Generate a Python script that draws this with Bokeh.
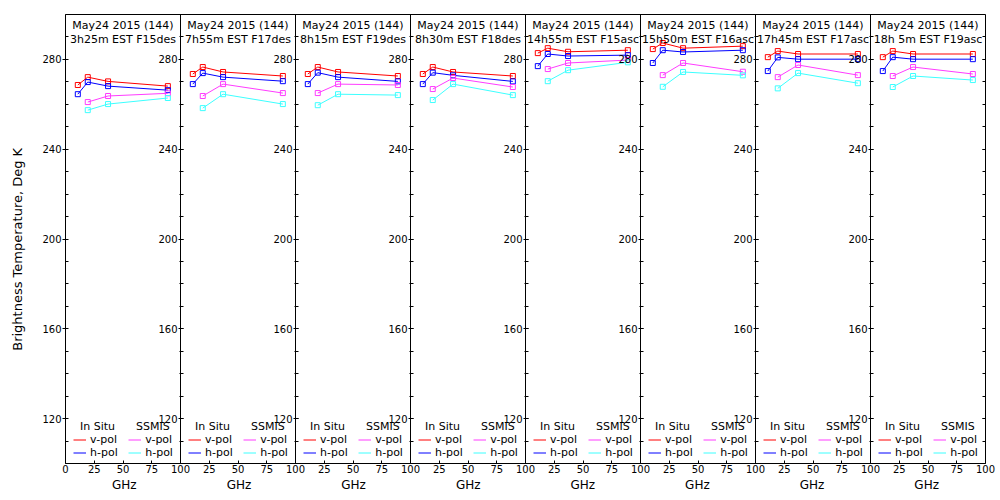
from bokeh.plotting import figure
from bokeh.models import Range1d, LinearAxis, FixedTicker, Label, Legend, LegendItem
from bokeh.embed import file_html
from bokeh.resources import INLINE

# ---------------- data ----------------
insitu_ghz = [10.7, 19.35, 37.0, 89.0]
ssmis_ghz = [19.35, 37.0, 89.0]

date_line = "May24 2015 (144)"
time_lines = ["3h25m EST F15des", "7h55m EST F17des", "8h15m EST F19des",
              "8h30m EST F18des", "14h55m EST F15asc", "15h50m EST F16asc",
              "17h45m EST F17asc", "18h 5m EST F19asc"]

insitu_vpol = [
    [268.6, 272.1, 270.2, 268.1],
    [273.5, 276.6, 274.4, 272.6],
    [273.5, 276.6, 274.4, 272.6],
    [273.5, 276.6, 274.4, 272.6],
    [282.8, 285.0, 283.4, 284.1],
    [284.6, 287.3, 285.0, 285.9],
    [281.0, 283.7, 282.4, 282.4],
    [281.0, 283.7, 282.4, 282.4],
]
insitu_hpol = [
    [264.5, 269.9, 268.1, 266.3],
    [269.0, 273.9, 272.1, 270.3],
    [269.0, 274.1, 272.1, 270.2],
    [269.0, 274.1, 272.9, 270.2],
    [277.0, 282.4, 281.5, 281.9],
    [278.4, 284.1, 283.3, 284.1],
    [274.8, 280.9, 280.1, 280.1],
    [274.8, 281.0, 280.1, 280.1],
]
ssmis_vpol = [
    [261.0, 263.7, 264.9],
    [263.7, 269.0, 265.0],
    [265.0, 269.0, 268.6],
    [266.8, 271.7, 267.7],
    [275.7, 278.4, 279.7],
    [273.0, 278.4, 274.5],
    [272.1, 277.5, 273.0],
    [272.6, 276.6, 273.5],
]
ssmis_hpol = [
    [257.4, 260.1, 262.8],
    [258.3, 264.5, 260.1],
    [259.6, 264.5, 264.1],
    [261.9, 269.0, 264.1],
    [270.3, 275.2, 278.7],
    [267.8, 274.4, 272.9],
    [267.1, 273.9, 269.4],
    [267.7, 272.6, 270.8],
]

y_major = [120, 160, 200, 240, 280]
y_minor = list(range(100, 301, 10))
x_panel_ticks = [0, 25, 50, 75, 100]
x_label = "GHz"

# ---------------- style ----------------
FONT = "DejaVu Sans"
RED, BLUE, MAG, CYAN = "#ff0000", "#0000ff", "#ff3cff", "#3cffff"
NB = "\u00a0"
EM, EN = "\u2003", "\u2002"
N = len(time_lines)

p = figure(width=998, height=498,
           min_border_left=65, min_border_right=13, min_border_top=14, min_border_bottom=35,
           x_range=Range1d(0, 100 * N), y_range=Range1d(100, 300),
           toolbar_location=None, output_backend="svg",
           background_fill_color="white", border_fill_color="white")
p.outline_line_color = "black"
p.outline_line_width = 1
p.grid.visible = False
p.extra_x_ranges = {f"r{i}": Range1d(-100 * i, 100 * N - 100 * i) for i in range(N)}


def style_y(ax):
    ax.ticker = FixedTicker(ticks=y_major, minor_ticks=y_minor)
    ax.major_label_text_font = FONT
    ax.major_label_text_font_size = "10px"
    ax.major_label_text_color = "black"
    ax.major_label_standoff = 1
    ax.major_tick_line_color = "black"
    ax.minor_tick_line_color = "black"


# first (regular) left axis
ya = p.yaxis[0]
style_y(ya)
ya.axis_line_color = None
ya.major_tick_in = 2
ya.major_tick_out = 3
ya.minor_tick_in = 3
ya.minor_tick_out = 0
ya.axis_label = "Brightness Temperature, Deg K" + NB * 5
ya.axis_label_text_font = FONT
ya.axis_label_text_font_size = "13px"
ya.axis_label_text_font_style = "normal"
ya.axis_label_text_color = "black"
ya.axis_label_standoff = 14

# shared bottom axis: each panel shows 0..100 GHz
glob_ticks, overrides = [], {}
for i in range(N):
    for t in x_panel_ticks:
        g = 100 * i + t
        if g in overrides:
            continue
        glob_ticks.append(g)
        overrides[g] = str(t) if (t > 0 or i == 0) else "100"
xa = p.xaxis[0]
xa.ticker = FixedTicker(ticks=glob_ticks, minor_ticks=[])
xa.major_label_overrides = overrides
xa.axis_line_color = None
xa.major_tick_in = 3
xa.major_tick_out = 0
xa.major_tick_line_color = "black"
xa.major_label_text_font = FONT
xa.major_label_text_font_size = "10px"
xa.major_label_text_color = "black"
xa.major_label_standoff = 1
# one "GHz" under every panel (spaced one panel width apart)
xa.axis_label = (EM * 7 + EN).join([x_label] * N)
xa.axis_label_text_font = FONT
xa.axis_label_text_font_size = "12px"
xa.axis_label_text_font_style = "normal"
xa.axis_label_text_color = "black"
xa.axis_label_standoff = 2

for i in range(N):
    rn = f"r{i}"
    # data
    lv = p.line(insitu_ghz, insitu_vpol[i], x_range_name=rn, line_color=RED, line_width=1)
    p.scatter(insitu_ghz, insitu_vpol[i], x_range_name=rn, marker="square", size=5,
              line_color=RED, fill_color=None)
    lh = p.line(insitu_ghz, insitu_hpol[i], x_range_name=rn, line_color=BLUE, line_width=1)
    p.scatter(insitu_ghz, insitu_hpol[i], x_range_name=rn, marker="square", size=5,
              line_color=BLUE, fill_color=None)
    sv = p.line(ssmis_ghz, ssmis_vpol[i], x_range_name=rn, line_color=MAG, line_width=1)
    p.scatter(ssmis_ghz, ssmis_vpol[i], x_range_name=rn, marker="square", size=5,
              line_color=MAG, fill_color=None)
    sh = p.line(ssmis_ghz, ssmis_hpol[i], x_range_name=rn, line_color=CYAN, line_width=1)
    p.scatter(ssmis_ghz, ssmis_hpol[i], x_range_name=rn, marker="square", size=5,
              line_color=CYAN, fill_color=None)

    # panel boundary axis (left side of panel i)
    if i > 0:
        ax = LinearAxis(x_range_name=rn, fixed_location=0)
        style_y(ax)
        ax.axis_line_color = "black"
        ax.major_tick_in = 3
        ax.major_tick_out = 2
        ax.minor_tick_in = 3
        ax.minor_tick_out = 1
        p.add_layout(ax, "left")

    # two-line panel title
    p.add_layout(Label(x=50, y=295.2, x_range_name=rn, text=date_line,
                       text_align="center", text_baseline="alphabetic",
                       text_font=FONT, text_font_size="11px", text_color="black"))
    p.add_layout(Label(x=50, y=288.7, x_range_name=rn, text=time_lines[i],
                       text_align="center", text_baseline="alphabetic",
                       text_font=FONT, text_font_size="11px", text_color="black"))

    # legend
    leg = Legend(items=[LegendItem(label="v-pol" + NB * 3, renderers=[lv]),
                        LegendItem(label="h-pol" + NB * 3, renderers=[lh]),
                        LegendItem(label="v-pol", renderers=[sv]),
                        LegendItem(label="h-pol", renderers=[sh])],
                 ncols=2, orientation="vertical",
                 location=(115 * i + 8, 4),
                 title=NB * 2 + "In Situ" + NB * 6 + "SSMIS",
                 title_text_font=FONT, title_text_font_size="11px",
                 title_text_font_style="normal", title_text_color="black",
                 title_standoff=-3,
                 label_text_font=FONT, label_text_font_size="11px", label_text_color="black",
                 glyph_width=13, glyph_height=11, label_height=11, label_standoff=4,
                 spacing=0, padding=0, margin=0,
                 border_line_color=None, background_fill_alpha=0)
    p.add_layout(leg, "center")

# right edge of last panel
rx = LinearAxis(x_range_name=f"r{N-1}", fixed_location=100)
style_y(rx)
rx.axis_line_color = None
rx.major_label_text_alpha = 0
rx.major_tick_in = 0
rx.major_tick_out = 3
rx.minor_tick_in = 0
rx.minor_tick_out = 3
p.add_layout(rx, "left")

open("out.html", "w").write(file_html(p, INLINE))
